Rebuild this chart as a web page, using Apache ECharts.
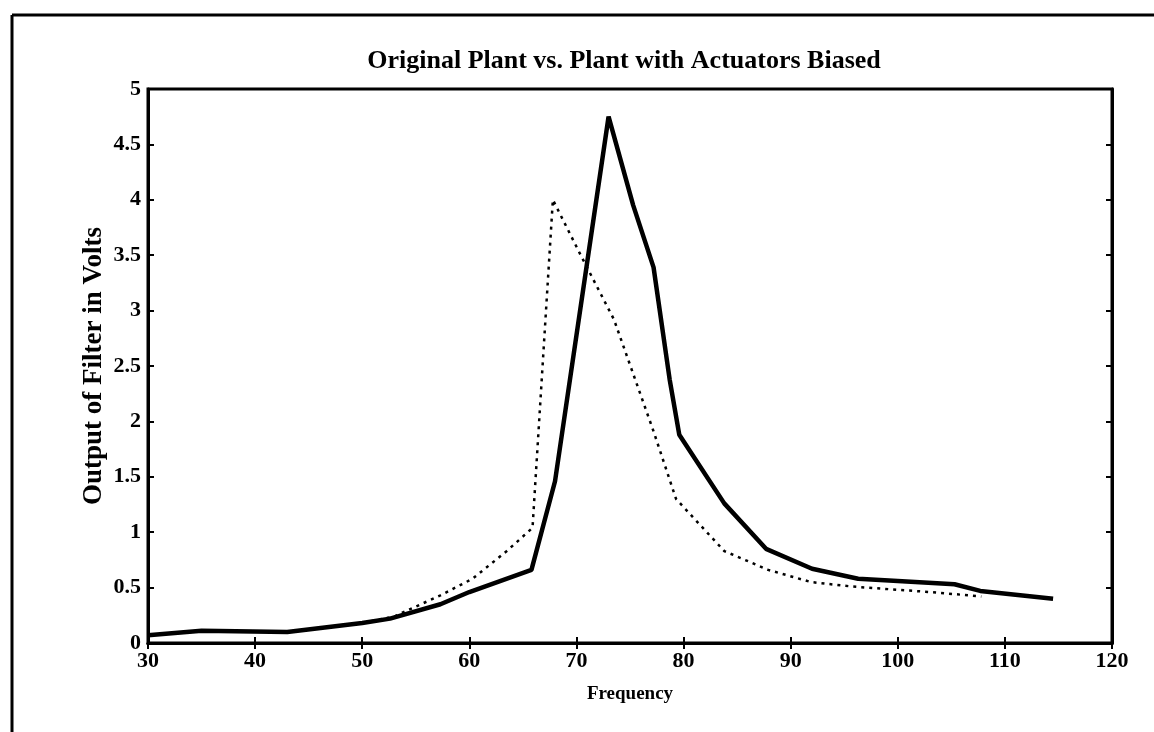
<!DOCTYPE html>
<html>
<head>
<meta charset="utf-8">
<script src="https://cdn.jsdelivr.net/npm/echarts@6/dist/echarts.min.js"></script>
<style>html,body{margin:0;padding:0;background:#fff}#c{width:1154px;height:732px}</style>
</head>
<body>
<div id="c"></div>
<script>
const titleText = 'Original Plant vs. Plant with Actuators Biased';
const xName = 'Frequency';
const yName = 'Output of Filter in Volts';

const freqSolid = [30, 35, 43, 50, 52.6, 57.3, 60, 65.8, 68, 73, 75.3, 77.2, 78.7, 79.6, 83.8, 87.7, 92, 96.3, 100, 105.3, 107.7, 114.5];
const voltSolid = [0.07, 0.11, 0.1, 0.18, 0.22, 0.35, 0.46, 0.66, 1.46, 4.75, 3.95, 3.39, 2.38, 1.88, 1.26, 0.85, 0.67, 0.58, 0.56, 0.53, 0.47, 0.40];

const freqDotted = [30, 35, 43, 50, 53, 57.3, 60.3, 63.5, 65.9, 67.8, 70.4, 73.5, 77.2, 79.3, 83.8, 87.9, 91.9, 95.7, 100, 103, 107.8];
const voltDotted = [0.07, 0.11, 0.1, 0.18, 0.24, 0.43, 0.58, 0.83, 1.04, 4.0, 3.5, 2.92, 1.91, 1.3, 0.83, 0.66, 0.55, 0.51, 0.48, 0.46, 0.42];

const xMin = 30, xMax = 120, xStep = 10;
const yMin = 0, yMax = 5, yStep = 0.5;

const font = 'Liberation Serif';
const chart = echarts.init(document.getElementById('c'));
const pairs = (xs, ys) => xs.map((x, i) => [x, ys[i]]);

const tickStyle = {show: true, inside: true, length: 6, lineStyle: {color: '#000', width: 2}};
const labelStyle = {color: '#000', fontFamily: font, fontSize: 22, fontWeight: 'bold'};

chart.setOption({
  animation: false,
  backgroundColor: '#fff',
  title: {
    text: titleText, left: 619, textAlign: 'center', top: 43,
    textStyle: {fontFamily: font, fontSize: 26, fontWeight: 'bold', color: '#000'}
  },
  grid: {left: 148, right: 42, top: 89, bottom: 89, show: true, borderColor: '#000', borderWidth: 3},
  xAxis: [{
    type: 'value', min: xMin, max: xMax, interval: xStep,
    name: xName, nameLocation: 'middle', nameGap: 42,
    nameTextStyle: {color: '#000', fontFamily: font, fontSize: 19, fontWeight: 'bold'},
    axisLine: {show: true, lineStyle: {color: '#000', width: 3}},
    axisTick: tickStyle, axisLabel: Object.assign({margin: 7}, labelStyle),
    splitLine: {show: false}
  }, {
    type: 'value', position: 'top', min: xMin, max: xMax, interval: xStep,
    axisLine: {show: true, lineStyle: {color: '#000', width: 3}},
    axisTick: tickStyle, axisLabel: {show: false}, splitLine: {show: false}
  }],
  yAxis: [{
    type: 'value', min: yMin, max: yMax, interval: yStep,
    name: yName, nameLocation: 'middle', nameGap: 40, nameRotate: 90, nameMoveOverlap: false,
    nameTextStyle: {color: '#000', fontFamily: font, fontSize: 27, fontWeight: 'bold'},
    axisLine: {show: true, lineStyle: {color: '#000', width: 3}},
    axisTick: tickStyle, axisLabel: Object.assign({margin: 7}, labelStyle),
    splitLine: {show: false}
  }, {
    type: 'value', position: 'right', min: yMin, max: yMax, interval: yStep,
    axisLine: {show: true, lineStyle: {color: '#000', width: 3}},
    axisTick: tickStyle, axisLabel: {show: false}, splitLine: {show: false}
  }],
  graphic: [
    {type: 'line', shape: {x1: 12, y1: 15, x2: 1154, y2: 15}, style: {stroke: '#000', lineWidth: 3}},
    {type: 'line', shape: {x1: 12, y1: 15, x2: 12, y2: 732}, style: {stroke: '#000', lineWidth: 3}}
  ],
  series: [{
    name: 'Plant with Actuators Biased', type: 'line', data: pairs(freqSolid, voltSolid),
    showSymbol: false, symbol: 'none',
    lineStyle: {color: '#000', width: 4.5}
  }, {
    name: 'Original Plant', type: 'line', data: pairs(freqDotted, voltDotted),
    showSymbol: false, symbol: 'none',
    lineStyle: {color: '#000', width: 2.5, type: [3, 5]}
  }]
});
</script>
</body>
</html>
